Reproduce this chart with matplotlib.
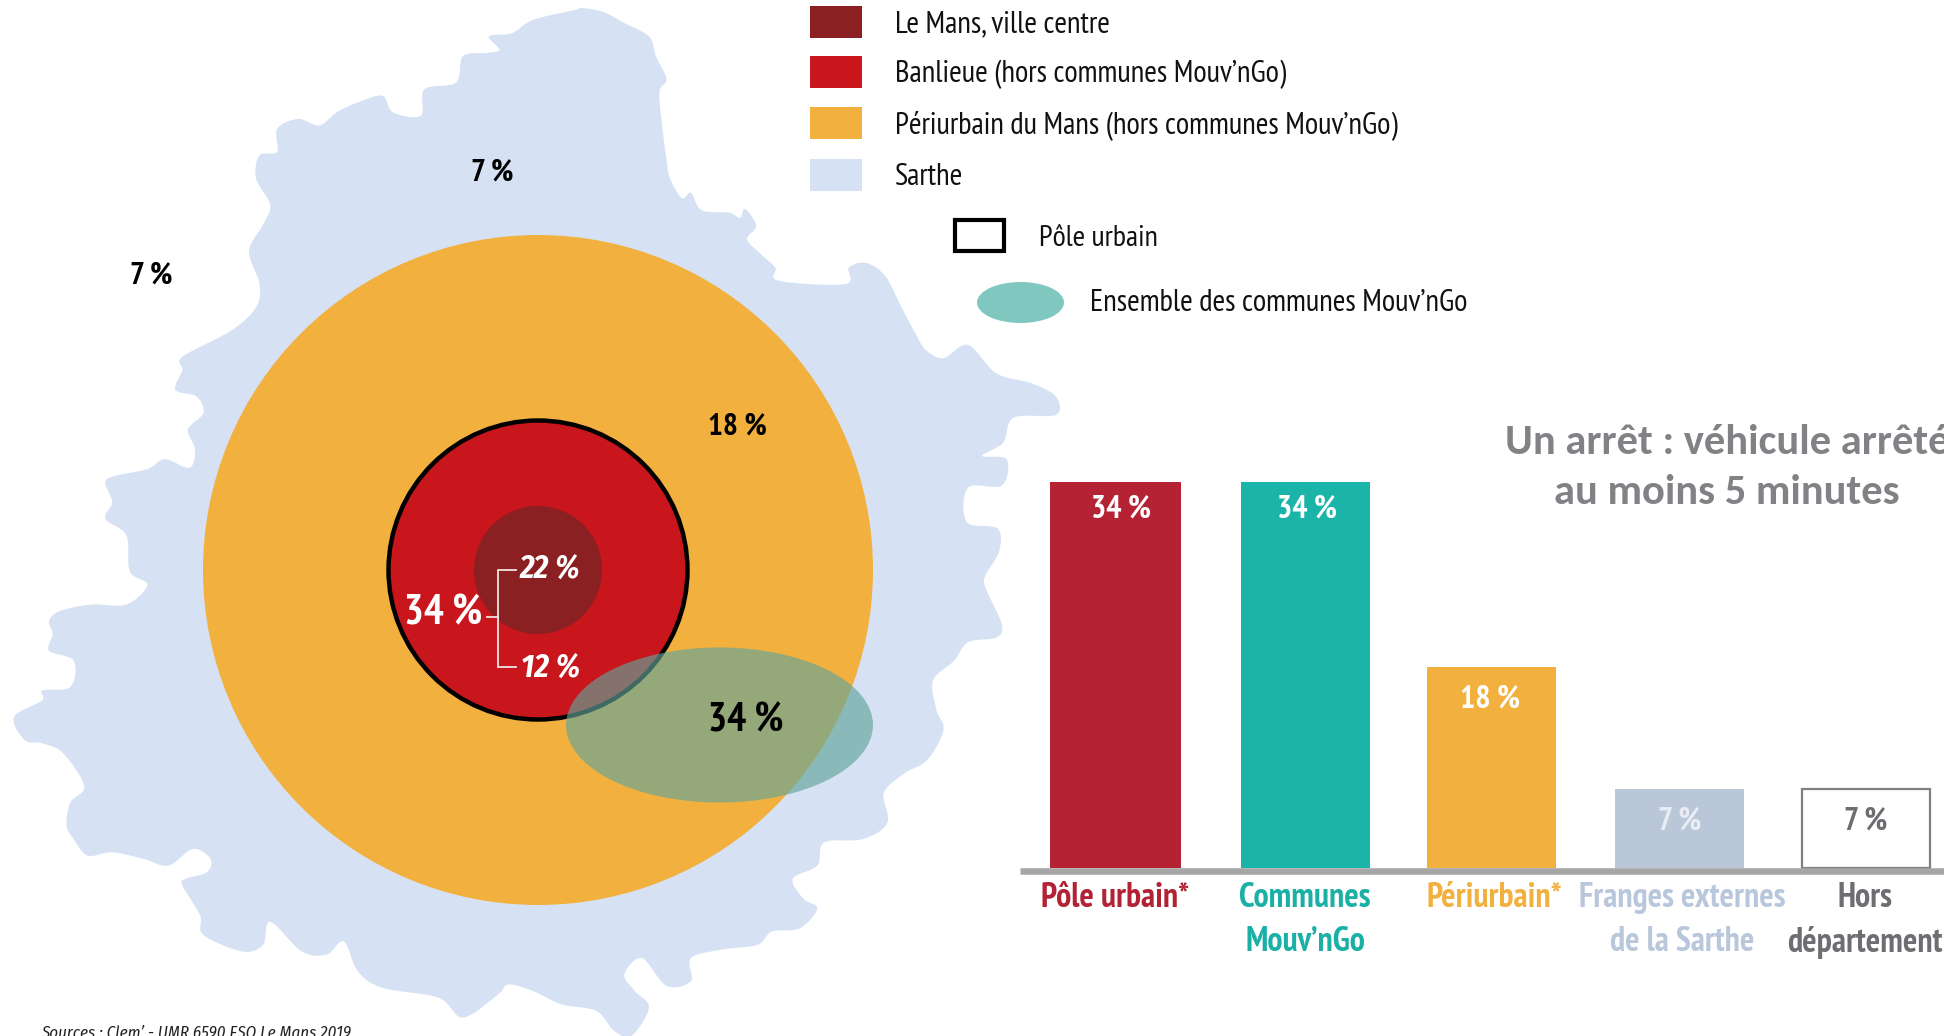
import numpy as np
import matplotlib
matplotlib.use('Agg')
import matplotlib.pyplot as plt
from matplotlib.patches import Circle, Ellipse, PathPatch, Rectangle
from matplotlib.path import Path

narrow = ['PT Sans Narrow', 'Archivo Narrow', 'Liberation Sans Narrow', 'Liberation Sans', 'DejaVu Sans']
italic = ['Fira Sans Condensed', 'Asap Condensed', 'Liberation Sans', 'DejaVu Sans']
plt.rcParams['font.family'] = narrow

W, H = 1944, 1036

# bars
categories = ["Pôle urbain*", "Communes\nMouv’nGo", "Périurbain*", "Franges externes\nde la Sarthe", "Hors\ndépartement"]
bar_heights = [34, 34, 17.7, 6.9, 6.9]
bar_labels = ["34 %", "34 %", "18 %", "7 %", "7 %"]
bar_colors = ["#B52233", "#1AB4A9", "#F2B03E", "#B9C7D9", "white"]
label_colors = ["#B22234", "#1AB0A5", "#F2B03E", "#B9C7DC", "#6D6E71"]
value_colors = ["white", "white", "white", "#E9EDF3", "#6D6E71"]
bar_edges = ["#B52233", "#1AB4A9", "#F2B03E", "#B9C7D9", "#808080"]

# legend
legend_names = ["Le Mans, ville centre", "Banlieue (hors communes Mouv’nGo)",
                "Périurbain du Mans (hors communes Mouv’nGo)", "Sarthe"]
legend_colors = ["#8A2022", "#C8161C", "#F2B03E", "#D6E2F3"]

outline = [(828,12),(860,18),(890,35),(925,55),(935,85),(950,120),(940,140),(945,200),(950,240),(955,270),
           (972,300),(985,292),(1000,318),(1040,322),(1055,330),(1062,316),(1078,342),(1065,362),(1085,385),
           (1105,405),(1110,425),(1205,430),(1210,405),(1235,398),(1262,418),(1285,465),(1305,505),(1320,530),
           (1345,542),(1380,522),(1420,565),(1470,580),(1505,600),(1505,628),(1445,632),(1430,670),(1400,690),
           (1435,695),(1428,735),(1380,738),(1378,790),(1422,800),(1424,835),(1405,870),(1405,890),(1428,945),
           (1420,965),(1380,972),(1360,1000),(1330,1030),(1335,1075),(1345,1105),(1322,1150),(1290,1170),
           (1260,1200),(1265,1245),(1230,1270),(1175,1275),(1165,1310),(1130,1330),(1145,1360),(1165,1375),
           (1140,1405),(1100,1410),(1080,1430),(1030,1437),(985,1450),(985,1485),(950,1492),(915,1450),
           (890,1475),(905,1500),(925,1525),(900,1568),(875,1560),(850,1530),(800,1520),(760,1500),(725,1490),
           (710,1505),(660,1540),(625,1510),(545,1495),(510,1470),(490,1425),(465,1445),(430,1440),(385,1395),
           (375,1430),(345,1440),(290,1415),(285,1385),(260,1340),(265,1330),(295,1320),(300,1300),(275,1285),
           (240,1310),(205,1300),(160,1290),(125,1295),(105,1270),(95,1250),(100,1215),(120,1190),(90,1140),
           (60,1125),(35,1120),(20,1085),(60,1060),(60,1045),(100,1040),(105,1000),(70,985),(75,960),(70,940),
           (85,925),(130,915),(180,915),(210,885),(185,865),(180,810),(150,785),(160,760),(150,730),(165,720),
           (210,710),(235,695),(270,708),(278,680),(268,650),(290,625),(280,600),(250,590),(260,560),(260,540),
           (330,500),(365,465),(370,430),(355,380),(375,340),(385,310),(365,270),(370,235),(395,230),(395,195),
           (425,180),(455,190),(480,170),(510,155),(545,145),(560,170),(600,175),(605,135),(650,125),(660,85),
           (695,80),(712,75),(697,55),(730,50),(760,30),(820,15)]


def smooth_path(p):
    # closed catmull-rom as bezier segments
    n = len(p)
    verts = [p[0]]
    codes = [Path.MOVETO]
    for i in range(n):
        p0, p1, p2, p3 = p[i - 1], p[i], p[(i + 1) % n], p[(i + 2) % n]
        verts += [p1 + (p2 - p0) / 6, p2 - (p3 - p1) / 6, p2]
        codes += [Path.CURVE4] * 3
    return Path(np.array(verts), codes)


fig = plt.figure(figsize=(W / 100, H / 100), dpi=100)
ax = fig.add_axes([0, 0, 1, 1])
ax.set_xlim(0, W)
ax.set_ylim(H, 0)
ax.axis('off')
ax.set_zorder(2)

pts = np.array(outline, dtype=float) / [1568 / 1100, 1568 / 1036]
ax.add_patch(PathPatch(smooth_path(pts), fc="#D6E2F3", ec='none'))
ax.add_patch(Circle((538, 570), 335, fc="#F2B03E", ec='none'))
ax.add_patch(Circle((538, 570), 149.5, fc="#C8161C", ec='black', lw=3.2))
ax.add_patch(Circle((538, 570), 64, fc="#8A2022", ec='none'))
ax.add_patch(Ellipse((719.5, 725), 307, 155, fc=(98 / 255, 164 / 255, 154 / 255), alpha=0.65, ec='none'))

# bracket
ax.plot([516, 498, 498, 516], [570, 570, 667, 667], color="#F3E3E3", lw=1.3, solid_joinstyle='miter')
ax.plot([487, 498], [617, 617], color="#F3E3E3", lw=1.3)

ax.text(492, 172.5, "7 %", color='black', fontsize=22.5, fontweight='bold', ha='center', va='center')
ax.text(151.5, 275.5, "7 %", color='black', fontsize=22.5, fontweight='bold', ha='center', va='center')
ax.text(737, 426.5, "18 %", color='black', fontsize=22.5, fontweight='bold', ha='center', va='center')
ax.text(443, 614, "34 %", color='white', fontsize=30, fontweight='bold', ha='center', va='center')
ax.text(550, 570.5, "22 %", color='white', fontsize=23, fontweight='bold', style='italic', family=italic, ha='center', va='center')
ax.text(551, 669, "12 %", color='white', fontsize=23, fontweight='bold', style='italic', family=italic, ha='center', va='center')
ax.text(746, 721, "34 %", color='black', fontsize=29, fontweight='bold', ha='center', va='center')

ax.text(41, 1033, "Sources : Clem’ - UMR 6590 ESO Le Mans 2019", color='#222222', fontsize=12.2, style='italic', family=italic, ha='left', va='center')

# legend
for y0, name, c in zip([6, 56, 107, 159], legend_names, legend_colors):
    ax.add_patch(Rectangle((810, y0), 52, 32, fc=c, ec='none'))
    ax.text(895, y0 + 18, name, color='#111111', fontsize=22.1, ha='left', va='center')
ax.add_patch(Rectangle((955, 220), 49, 31, fc='white', ec='black', lw=3))
ax.text(1039, 238.5, "Pôle urbain", color='#111111', fontsize=21.8, ha='left', va='center')
ax.add_patch(Ellipse((1020.5, 302.5), 87, 41, fc="#80C7BF", ec='none'))
ax.text(1090, 303, "Ensemble des communes Mouv’nGo", color='#111111', fontsize=22.1, ha='left', va='center')

# title
title_font = ['Carlito', 'Lato', 'Open Sans', 'DejaVu Sans']
ax.text(1727, 442, "Un arrêt : véhicule arrêté", color='#808285', fontsize=30.7, family=title_font, fontweight='bold', ha='center', va='center')
ax.text(1727, 493, "au moins 5 minutes", color='#808285', fontsize=30.7, family=title_font, fontweight='bold', ha='center', va='center')

# bar chart, own axes, x in image pixels
base_y, top_y = 867.5, 481.5
ax2 = fig.add_axes([1020 / W, 1 - base_y / H, (W - 1020) / W, (base_y - top_y) / H])
ax2.set_zorder(1)
ax2.patch.set_alpha(0)
ax2.set_xlim(1020, W)
ax2.set_ylim(0, 34)
bar_lefts = [1050, 1241, 1427, 1615, 1802]
bar_widths = [131, 129, 129, 129, 128]
centers = [l + w / 2 for l, w in zip(bar_lefts, bar_widths)]
ax2.bar(centers, bar_heights, width=bar_widths, color=bar_colors, edgecolor=bar_edges, linewidth=[0, 0, 0, 0, 1.6], clip_on=False)
for s in ["top", "right", "left"]:
    ax2.spines[s].set_visible(False)
ax2.spines["bottom"].set_position(('outward', 2.3))
ax2.spines["bottom"].set_color("#A6A6A6")
ax2.spines["bottom"].set_linewidth(4.7)
ax2.spines["bottom"].set_capstyle('butt')
ax2.set_yticks([])
label_x = [1115, 1305, 1494, 1682, 1865]
ax2.set_xticks(label_x)
ax2.set_xticklabels(categories, fontsize=24.4, fontweight='bold', linespacing=1.46)
ax2.tick_params(axis='x', length=0, pad=8.4)
for t, c in zip(ax2.get_xticklabels(), label_colors):
    t.set_color(c)

value_x = [1121, 1307, 1490, 1680, 1866]
value_y = [510, 510, 699, 822, 822]
for x, y, s, c in zip(value_x, value_y, bar_labels, value_colors):
    ax.text(x, y, s, color=c, fontsize=23, fontweight='bold', ha='center', va='center')

fig.savefig("out.png", dpi=100)
